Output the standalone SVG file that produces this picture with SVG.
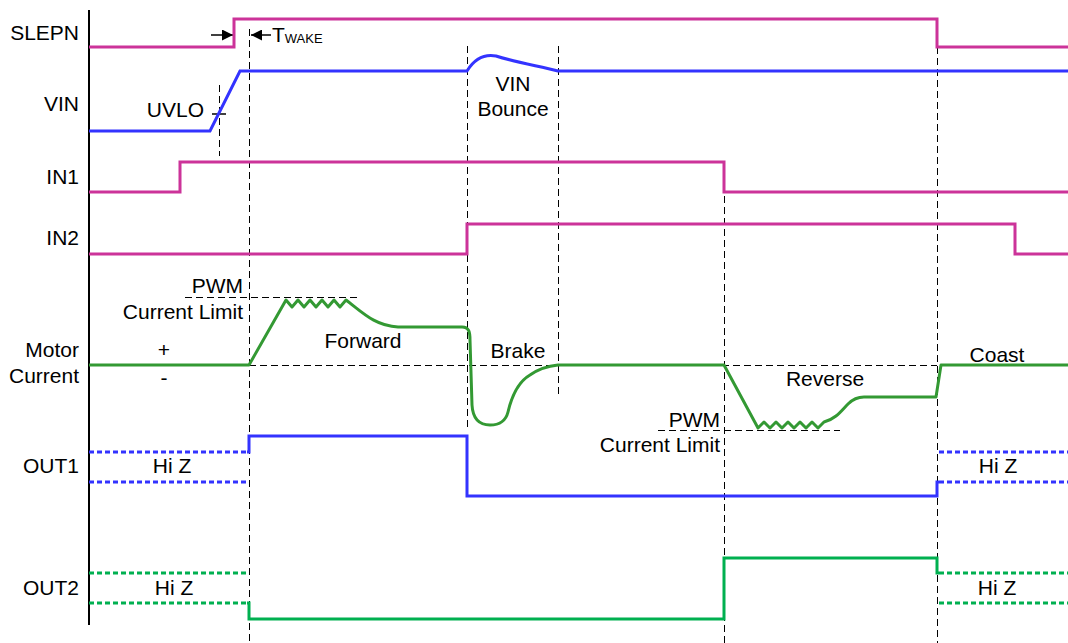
<svg xmlns="http://www.w3.org/2000/svg" width="1068" height="643" viewBox="0 0 1068 643">
  <defs>
    <style>
      text { font-family: "Liberation Sans", Arial, sans-serif; font-size: 21px; fill: #000; }
      .lbl { text-anchor: end; }
      .mid { text-anchor: middle; }
      .sig { fill: none; stroke-width: 3; stroke-linejoin: miter; }
      .mag { stroke: #CC3399; }
      .blu { stroke: #3333FF; }
      .grn { stroke: #339933; stroke-linejoin: round; }
      .out2 { stroke: #00B050; }
      .hiz { stroke-dasharray: 5 3; }
      .guide { fill: none; stroke: #000; stroke-width: 1; stroke-dasharray: 7 4; }
      .tick { fill: none; stroke: #000; stroke-width: 1.5; }
    </style>
    <marker id="arrowhead" viewBox="0 0 10 10" refX="10" refY="5" markerWidth="11" markerHeight="11" markerUnits="userSpaceOnUse" orient="auto">
      <path d="M0,0 L10,5 L0,10 z" fill="#000"/>
    </marker>
  </defs>

  <rect width="1068" height="643" fill="#fff"/>

  <!-- time axis -->
  <line x1="89" y1="10" x2="89" y2="625" stroke="#000" stroke-width="2"/>

  <!-- connectors: timing guides and markers -->
  <g id="guides">
    <line class="guide" x1="249.5" y1="29" x2="249.5" y2="643"/>
    <line class="guide" x1="219.5" y1="85" x2="219.5" y2="156"/>
    <line class="guide" x1="467.5" y1="46" x2="467.5" y2="430"/>
    <line class="guide" x1="558.5" y1="46" x2="558.5" y2="397"/>
    <line class="guide" x1="724.5" y1="163" x2="724.5" y2="643"/>
    <line class="guide" x1="937.5" y1="47" x2="937.5" y2="643"/>
    <line class="guide" x1="249" y1="365.5" x2="937" y2="365.5"/>
    <line class="guide" x1="185" y1="297.5" x2="358" y2="297.5"/>
    <line class="guide" x1="658" y1="430.5" x2="840" y2="430.5"/>
    <line class="tick" x1="212" y1="114" x2="226" y2="114"/>
    <line class="tick" x1="211" y1="35" x2="233" y2="35" marker-end="url(#arrowhead)"/>
    <line class="tick" x1="271" y1="35" x2="251" y2="35" marker-end="url(#arrowhead)"/>
  </g>

  <!-- SLEPN -->
  <g id="slepn">
    <text class="lbl" x="79" y="40">SLEPN</text>
    <path class="sig mag" d="M89,47 H234 V19 H937 V47 H1068"/>
    <text x="272" y="42" font-size="20">T<tspan font-size="13" dy="1">WAKE</tspan></text>
  </g>

  <!-- VIN -->
  <g id="vin">
    <text class="lbl" x="79" y="111">VIN</text>
    <path class="sig blu" d="M89,131 H210 L240,71 H467 C475,58 485,54 496,56 C515,62 538,66 558,71 H1068"/>
    <text class="lbl" x="204" y="117">UVLO</text>
    <text class="mid" x="513" y="91">VIN</text>
    <text class="mid" x="513" y="116">Bounce</text>
  </g>

  <!-- IN1 -->
  <g id="in1">
    <text class="lbl" x="79" y="184">IN1</text>
    <path class="sig mag" d="M89,192 H180 V162 H724 V192 H1068"/>
  </g>

  <!-- IN2 -->
  <g id="in2">
    <text class="lbl" x="79" y="245">IN2</text>
    <path class="sig mag" d="M89,254 H467 V224 H1015 V254 H1068"/>
  </g>

  <!-- Motor current -->
  <g id="motor-current">
    <text class="lbl" x="79" y="357">Motor</text>
    <text class="lbl" x="79" y="383">Current</text>
    <text class="mid" x="164" y="357">+</text>
    <text class="mid" x="164" y="385">-</text>
    <text class="lbl" x="243" y="293">PWM</text>
    <text class="lbl" x="243" y="319">Current Limit</text>
    <text class="mid" x="363" y="348">Forward</text>
    <text class="mid" x="518" y="358">Brake</text>
    <text class="mid" x="825" y="386">Reverse</text>
    <text class="lbl" x="720" y="427">PWM</text>
    <text class="lbl" x="720" y="452">Current Limit</text>
    <text class="mid" x="997" y="362">Coast</text>
    <path class="sig grn" d="M89,365 H249 L286,300
      L292,307 L298,300 L304,307 L310,300 L316,307 L322,300 L328,307 L334,300 L340,307 L346,300
      C362,312 375,326 398,327 H462 C469,327 470,332 470,340 L472,405 C473,422 482,425 490,425 C500,425 506,420 508,412 C512,395 518,382 530,375 C540,368 548,366 558,365
      H724 L758,428
      L764,422 L770,428 L776,422 L782,428 L788,422 L794,428 L800,422 L806,428 L812,422 L818,428 L824,422
      C836,419 842,410 848,404 C853,399 857,397 864,397 H936 L941,365 H1068"/>
  </g>

  <!-- OUT1 -->
  <g id="out1">
    <text class="lbl" x="79" y="473">OUT1</text>
    <path class="sig blu hiz" d="M89,452 H247 M89,482 H247"/>
    <path class="sig blu" d="M247,452 H249 V436 H467 V496 H937 V482 H939"/>
    <path class="sig blu hiz" d="M939,452 H1068 M939,482 H1068"/>
    <text class="mid" x="172" y="473">Hi Z</text>
    <text class="mid" x="998" y="473">Hi Z</text>
  </g>

  <!-- OUT2 -->
  <g id="out2">
    <text class="lbl" x="79" y="595">OUT2</text>
    <path class="sig out2 hiz" d="M89,573 H247 M89,603 H247"/>
    <path class="sig out2" d="M247,603 H249 V619 H724 V558 H937 V573 H939"/>
    <path class="sig out2 hiz" d="M939,573 H1068 M939,603 H1068"/>
    <text class="mid" x="174" y="595">Hi Z</text>
    <text class="mid" x="997" y="595">Hi Z</text>
  </g>
</svg>
